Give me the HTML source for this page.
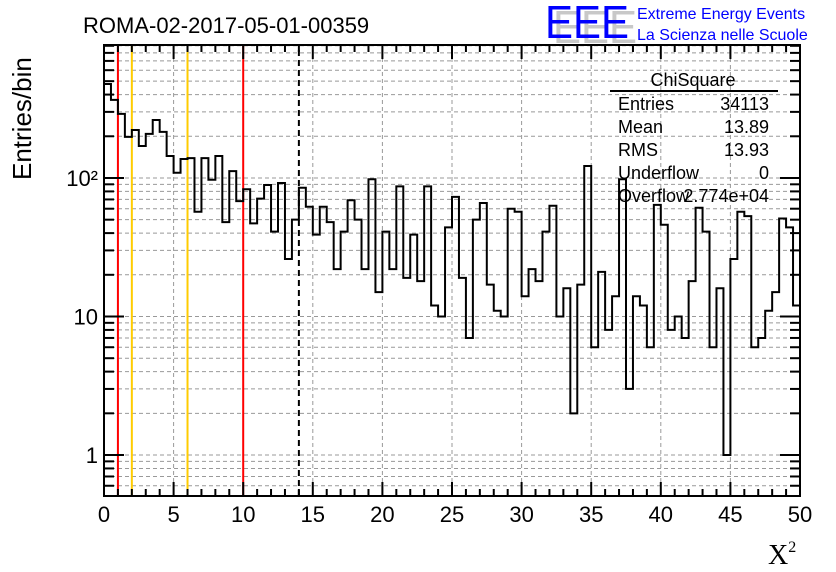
<!DOCTYPE html>
<html><head><meta charset="utf-8"><style>
body{margin:0;background:#fff;}
svg{display:block;font-family:"Liberation Sans",sans-serif;}
</style></head><body>
<svg id="chart" width="836" height="572" viewBox="0 0 836 572" xmlns="http://www.w3.org/2000/svg">
<rect width="836" height="572" fill="#fff"/>
<g id="grid"></g>
<g id="vlines"></g>
<path id="hist" fill="none" stroke="#000" stroke-width="2"/>
<g id="axes"></g>
<text x="83" y="33" font-size="22">ROMA-02-2017-05-01-00359</text>
<g>
<text x="553" y="43" font-size="46" fill="#c8c8c8" textLength="84" lengthAdjust="spacingAndGlyphs">EEE</text>
<text x="545" y="38" font-size="46" fill="#0000ff" textLength="84" lengthAdjust="spacingAndGlyphs">EEE</text>
<text x="637" y="19" font-size="16" fill="#0000ff">Extreme Energy Events</text>
<text x="637" y="40" font-size="16" fill="#0000ff">La Scienza nelle Scuole</text>
</g>
<g font-size="18">
<text x="693" y="86" text-anchor="middle">ChiSquare</text>
<line x1="610" y1="91" x2="778" y2="91" stroke="#000" stroke-width="2"/>
<text x="618" y="110">Entries</text><text x="769" y="110" text-anchor="end">34113</text>
<text x="618" y="133">Mean</text><text x="769" y="133" text-anchor="end">13.89</text>
<text x="618" y="156">RMS</text><text x="769" y="156" text-anchor="end">13.93</text>
<text x="618" y="179">Underflow</text><text x="769" y="179" text-anchor="end">0</text>
<text x="618" y="202">Overflow</text><text x="769" y="202" text-anchor="end">2.774e+04</text>
</g>
<text transform="translate(31,180) rotate(-90)" font-size="26">Entries/bin</text>
<text x="768" y="564" font-size="28" font-family="Liberation Serif,serif">X<tspan font-size="16" dy="-12">2</tspan></text>
</svg>
<script>
const counts=[477,366,290,198,222,170,208,262,215,144,109,137,139,57,139,97,144,48,112,68,83,47,71,89,41,92,26,50,85,62,39,62,48,22,41,69,50,22,98,15,41,22,87,19,39,18,87,12,10,44,73,19,7,50,66,17,11,10,60,57,14,22,18,41,63,10,16,2,17,122,6,21,8,14,98,3,14,12,6,64,46,8,10,7,18,61,41,6,16,1,26,57,53,6,7,11,15,51,44,12];
const binLow=0, binWidth=0.5;
const xTicks=[0,5,10,15,20,25,30,35,40,45,50];
const yTickLabels=[{v:1,t:"1"},{v:10,t:"10"},{v:100,t:"10²"}];
const cutsRed=[1,10], cutsYellow=[2,6], cutBlack=[14];
const X0=104,X1=800,Y0=496,Y1=45,xmin=0,xmax=50,ymin=0.506,ymax=912;
const NS="http://www.w3.org/2000/svg";
function sx(v){return X0+(v-xmin)/(xmax-xmin)*(X1-X0);}
function sy(v){return Y0-(Math.log10(v)-Math.log10(ymin))/(Math.log10(ymax)-Math.log10(ymin))*(Y0-Y1);}
function mk(tag,attrs,parent){const e=document.createElementNS(NS,tag);for(const k in attrs)e.setAttribute(k,attrs[k]);parent.appendChild(e);return e;}
const grid=document.getElementById('grid'),axes=document.getElementById('axes'),vl=document.getElementById('vlines');
// grid
xTicks.forEach(t=>{if(t>xmin&&t<xmax){const l=mk('line',{x1:sx(t),x2:sx(t),y1:Y0,y2:Y1,stroke:'#999','stroke-dasharray':'4,3'},grid);

}});
for(let d=0.1;d<=1000;d*=10){for(let m=1;m<=9;m++){const v=+(d*m).toPrecision(3);if(v<=ymin||v>=ymax)continue;const y=sy(v);
const l=mk('line',{x1:X0,x2:X1,y1:y,y2:y,stroke:'#999','stroke-dasharray':'4,3'},grid);


const major=(m===1);
const a=mk('line',{x1:X0,x2:X0+(major?20:10),y1:y,y2:y,stroke:'#000','stroke-width':2},axes);


const b=mk('line',{x1:X1,x2:X1-(major?20:10),y1:y,y2:y,stroke:'#000','stroke-width':2},axes);


}}
// cut lines
function vline(v,col,dash,name){const l=mk('line',{x1:sx(v),x2:sx(v),y1:Y0,y2:Y1,stroke:col,'stroke-width':2},vl);if(dash)l.setAttribute('stroke-dasharray',dash);

}
cutsRed.forEach(v=>vline(v,'#ff0000',null,'red-cut-line'));
cutsYellow.forEach(v=>vline(v,'#ffcc00',null,'yellow-cut-line'));
cutBlack.forEach(v=>vline(v,'#000',"6,4",'black-dashed-line'));
// histogram
let d='';counts.forEach((c,i)=>{const xa=sx(binLow+i*binWidth),xb=sx(binLow+(i+1)*binWidth),y=sy(c);d+=(i===0?'M'+xa+','+y:'L'+xa+','+y)+'L'+xb+','+y;});
document.getElementById('hist').setAttribute('d',d);
// x ticks
for(let v=xmin;v<=xmax;v+=1){const major=(v%5===0);const x=sx(v);
const t=mk('line',{x1:x,x2:x,y1:Y0,y2:Y0-(major?14:7),stroke:'#000','stroke-width':2},axes);


const t2=mk('line',{x1:x,x2:x,y1:Y1,y2:Y1+(major?14:7),stroke:'#000','stroke-width':2},axes);

}
xTicks.forEach(v=>{const t=mk('text',{x:sx(v),y:522,'font-size':22,'text-anchor':'middle'},axes);t.textContent=v;

});
yTickLabels.forEach(o=>{const t=mk('text',{x:98,y:sy(o.v)+8,'font-size':22,'text-anchor':'end'},axes);t.textContent=o.t;

});
const fr=mk('rect',{x:X0,y:Y1,width:X1-X0,height:Y0-Y1,fill:'none',stroke:'#000','stroke-width':2},axes);


</script>
</body></html>
